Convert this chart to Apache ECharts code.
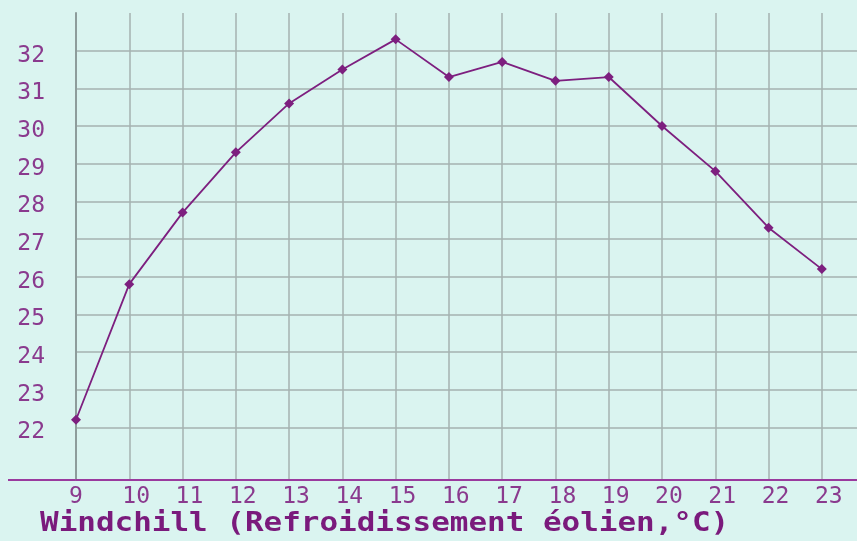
<!DOCTYPE html>
<html>
<head>
<meta charset="utf-8">
<style>
  html, body { margin: 0; padding: 0; background: #daf4f0; }
  #chart { width: 857px; height: 541px; }
</style>
<script src="https://cdn.jsdelivr.net/npm/echarts@6/dist/echarts.min.js"></script>
</head>
<body>
<div id="chart"></div>
<script>
const hours = [9, 10, 11, 12, 13, 14, 15, 16, 17, 18, 19, 20, 21, 22, 23];
const windchill = [22.2, 25.8, 27.7, 29.3, 30.6, 31.5, 32.3, 31.3, 31.7, 31.2, 31.3, 30.0, 28.8, 27.3, 26.2];
const yTicks = [22, 23, 24, 25, 26, 27, 28, 29, 30, 31, 32];
const xTicks = [9, 10, 11, 12, 13, 14, 15, 16, 17, 18, 19, 20, 21, 22, 23];
const axisTitle = 'Windchill (Refroidissement éolien,°C)';

const chart = echarts.init(document.getElementById('chart'), null, { renderer: 'canvas' });
const tickFont = 'DejaVu Sans Mono';
chart.setOption({
  backgroundColor: '#daf4f0',
  animation: false,
  grid: { left: 76, right: 0, top: 13, bottom: 61, containLabel: false },
  xAxis: {
    type: 'value',
    min: 9,
    max: 23.66,
    axisLine: { show: true, lineStyle: { color: '#9a3a9e', width: 2 } },
    axisTick: { show: false, customValues: xTicks },
    axisLabel: {
      customValues: xTicks,
      color: '#8a3a8e',
      fontFamily: tickFont,
      fontSize: 23,
      margin: 6,
      align: 'center',
      formatter: v => (v < 10 ? String(v) : ' ' + v)
    },
    splitLine: { show: true, lineStyle: { color: '#a5b2b0', width: 1.5 } }
  },
  yAxis: {
    type: 'value',
    min: 20.6,
    max: 33,
    axisLine: { show: true, lineStyle: { color: '#8d9c9b', width: 2 } },
    axisTick: { show: false, customValues: yTicks },
    axisLabel: {
      customValues: yTicks,
      margin: 31,
      formatter: v => '{t|' + v + '}',
      rich: {
        t: {
          color: '#8a3a8e',
          fontFamily: tickFont,
          fontSize: 23,
          padding: [10, 0, 0, 0]
        }
      }
    },
    splitLine: { show: true, lineStyle: { color: '#a5b2b0', width: 1.5 } }
  },
  series: [{
    type: 'line',
    data: hours.map((h, i) => [h, windchill[i]]),
    symbol: 'diamond',
    symbolSize: 10,
    lineStyle: { color: '#7d1f7f', width: 1.8 },
    itemStyle: { color: '#7d1f7f' },
    z: 5
  }],
  graphic: [
    {
      type: 'line',
      shape: { x1: 8, y1: 480, x2: 76, y2: 480 },
      style: { stroke: '#9a3a9e', lineWidth: 2 }
    },
    {
      type: 'text',
      left: 40,
      top: 511,
      scaleX: 1.19,
      style: {
        text: axisTitle,
        fill: '#7a1a7c',
        font: 'bold 26px "DejaVu Sans Mono"'
      }
    }
  ]
});
</script>
</body>
</html>
